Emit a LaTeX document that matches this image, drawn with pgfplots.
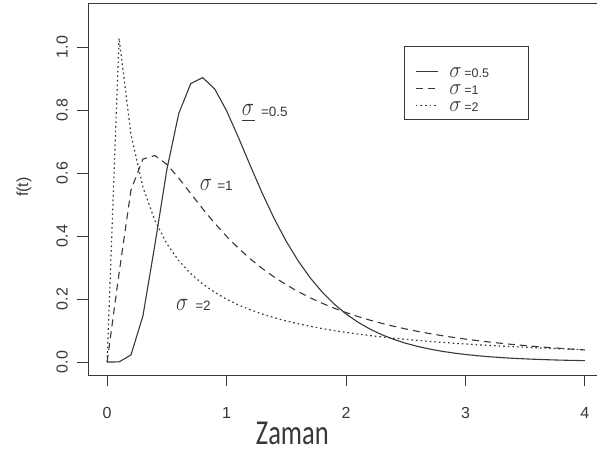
\documentclass[border=0pt]{standalone}
\usepackage{fontspec}
\setmainfont{Liberation Sans}
\newfontfamily\carlito{Carlito}
\usepackage{pgfplots}
\usepackage{pgfplotstable}
\pgfplotsset{compat=1.18}

% log-normal densities f(t), mu = 0, for sigma = 0.5, 1, 2
\pgfplotstableread{
t    s05    s1     s2
0.0  0      0      0
0.1  0.0002 0.2816 1.0282
0.2  0.0225 0.5463 0.7215
0.3  0.1465 0.6442 0.5547
0.4  0.3721 0.6554 0.4490
0.5  0.6105 0.6275 0.3757
0.6  0.7891 0.5836 0.3218
0.7  0.8838 0.5348 0.2805
0.8  0.9028 0.4864 0.2478
0.9  0.8671 0.4408 0.2213
1.0  0.7979 0.3989 0.1995
1.1  0.7123 0.3610 0.1811
1.2  0.6221 0.3270 0.1655
1.3  0.5348 0.2965 0.1521
1.4  0.4544 0.2693 0.1405
1.5  0.3829 0.2450 0.1303
1.6  0.3206 0.2233 0.1213
1.7  0.2673 0.2039 0.1133
1.8  0.2221 0.1865 0.1061
1.9  0.1842 0.1709 0.0997
2.0  0.1526 0.1569 0.0939
2.1  0.1264 0.1443 0.0887
2.2  0.1046 0.1329 0.0839
2.3  0.0866 0.1226 0.0795
2.4  0.0718 0.1133 0.0755
2.5  0.0595 0.1049 0.0718
2.6  0.0494 0.0972 0.0684
2.7  0.0411 0.0902 0.0653
2.8  0.0342 0.0839 0.0624
2.9  0.0285 0.0781 0.0597
3.0  0.0238 0.0727 0.0572
3.1  0.0199 0.0679 0.0548
3.2  0.0167 0.0634 0.0526
3.3  0.0140 0.0593 0.0506
3.4  0.0117 0.0555 0.0487
3.5  0.0099 0.0520 0.0468
3.6  0.0083 0.0488 0.0451
3.7  0.0070 0.0458 0.0435
3.8  0.0059 0.0431 0.0420
3.9  0.0050 0.0405 0.0406
4.0  0.0043 0.0382 0.0392
}\densities

\newcommand\bigsig{{\fontsize{22bp}{22bp}\selectfont\scalebox{1}[1.25]{$\sigma$}}}
\newcommand\legsig{{\fontsize{20bp}{20bp}\selectfont\scalebox{1}[1.1]{$\sigma$}}}
\newcommand\eqtxt[1]{{\fontsize{13.5bp}{14bp}\selectfont #1}}
\newcommand\legtxt[1]{{\fontsize{12.5bp}{14bp}\selectfont #1}}

\definecolor{ink}{gray}{0.22}

\begin{document}
\begin{tikzpicture}
\begin{axis}[
  at={(88bp,77bp)}, anchor=south west,
  scale only axis, width=516bp, height=372bp,
  xmin=-0.16, xmax=4.16, ymin=-0.0413, ymax=1.1397,
  xtick={0,1,2,3,4},
  ytick={0,0.2,0.4,0.6,0.8,1.0},
  yticklabels={0.0,0.2,0.4,0.6,0.8,1.0},
  tick pos=left, tick align=outside,
  major tick length=11bp,
  tick style={ink, line width=0.9bp},
  axis line style={ink, line width=0.9bp},
  /pgf/number format/assume math mode=true,
  ticklabel style={font=\fontsize{16bp}{18bp}\selectfont, text=ink},
  xticklabel style={anchor=center, yshift=-27bp},
  yticklabel style={rotate=90, anchor=center, yshift=15bp},
  ylabel={f(t)},
  ylabel style={font=\fontsize{16bp}{18bp}\selectfont, text=ink,
    at={(rel axis cs:0,0.505)}, anchor=center, yshift=64bp},
  xlabel={\scalebox{1}[1.32]{\carlito\fontsize{26.5bp}{28bp}\selectfont Zaman}},
  xlabel style={at={(rel axis cs:0.396,0)}, anchor=center, yshift=-58.5bp, text=ink},
  legend style={at={(rel axis cs:0.6337,0.828)}, anchor=north west,
    draw=none, fill=none, inner sep=0pt, row sep=4bp, column sep=11bp,
    nodes={inner sep=0pt, text height=10bp, text depth=3bp, text=ink}},
  legend cell align=left,
  legend image code/.code={\draw[#1] (0bp,2bp) -- (22bp,2bp);},
]
\addplot[ink, line width=1.1bp] table[x=t, y=s05] {\densities};
\addlegendentry{\legsig\ \legtxt{=0.5}}
\addplot[ink, line width=1.1bp, dash pattern=on 7bp off 5bp] table[x=t, y=s1] {\densities};
\addlegendentry{\legsig\ \legtxt{=1}}
\addplot[ink, line width=1.2bp, dash pattern=on 1.6bp off 3bp] table[x=t, y=s2] {\densities};
\addlegendentry{\legsig\ \legtxt{=2}}

% legend frame
\draw[ink, line width=0.9bp] (rel axis cs:0.614,0.882) rectangle (rel axis cs:0.853,0.688);

% curve labels
\node[text=ink] at (axis cs:1.18,0.80) {\bigsig};
\draw[ink, line width=0.9bp] (axis cs:1.13,0.768) -- (axis cs:1.24,0.768);
\node[text=ink] at (axis cs:1.40,0.794) {\eqtxt{=0.5}};
\node[text=ink] at (axis cs:0.828,0.562) {\bigsig};
\node[text=ink] at (axis cs:0.987,0.559) {\eqtxt{=1}};
\node[text=ink] at (axis cs:0.628,0.181) {\bigsig};
\node[text=ink] at (axis cs:0.803,0.178) {\eqtxt{=2}};
\end{axis}
\pgfresetboundingbox
\path[use as bounding box] (0,0) rectangle (597bp,452bp);
\end{tikzpicture}
\end{document}
